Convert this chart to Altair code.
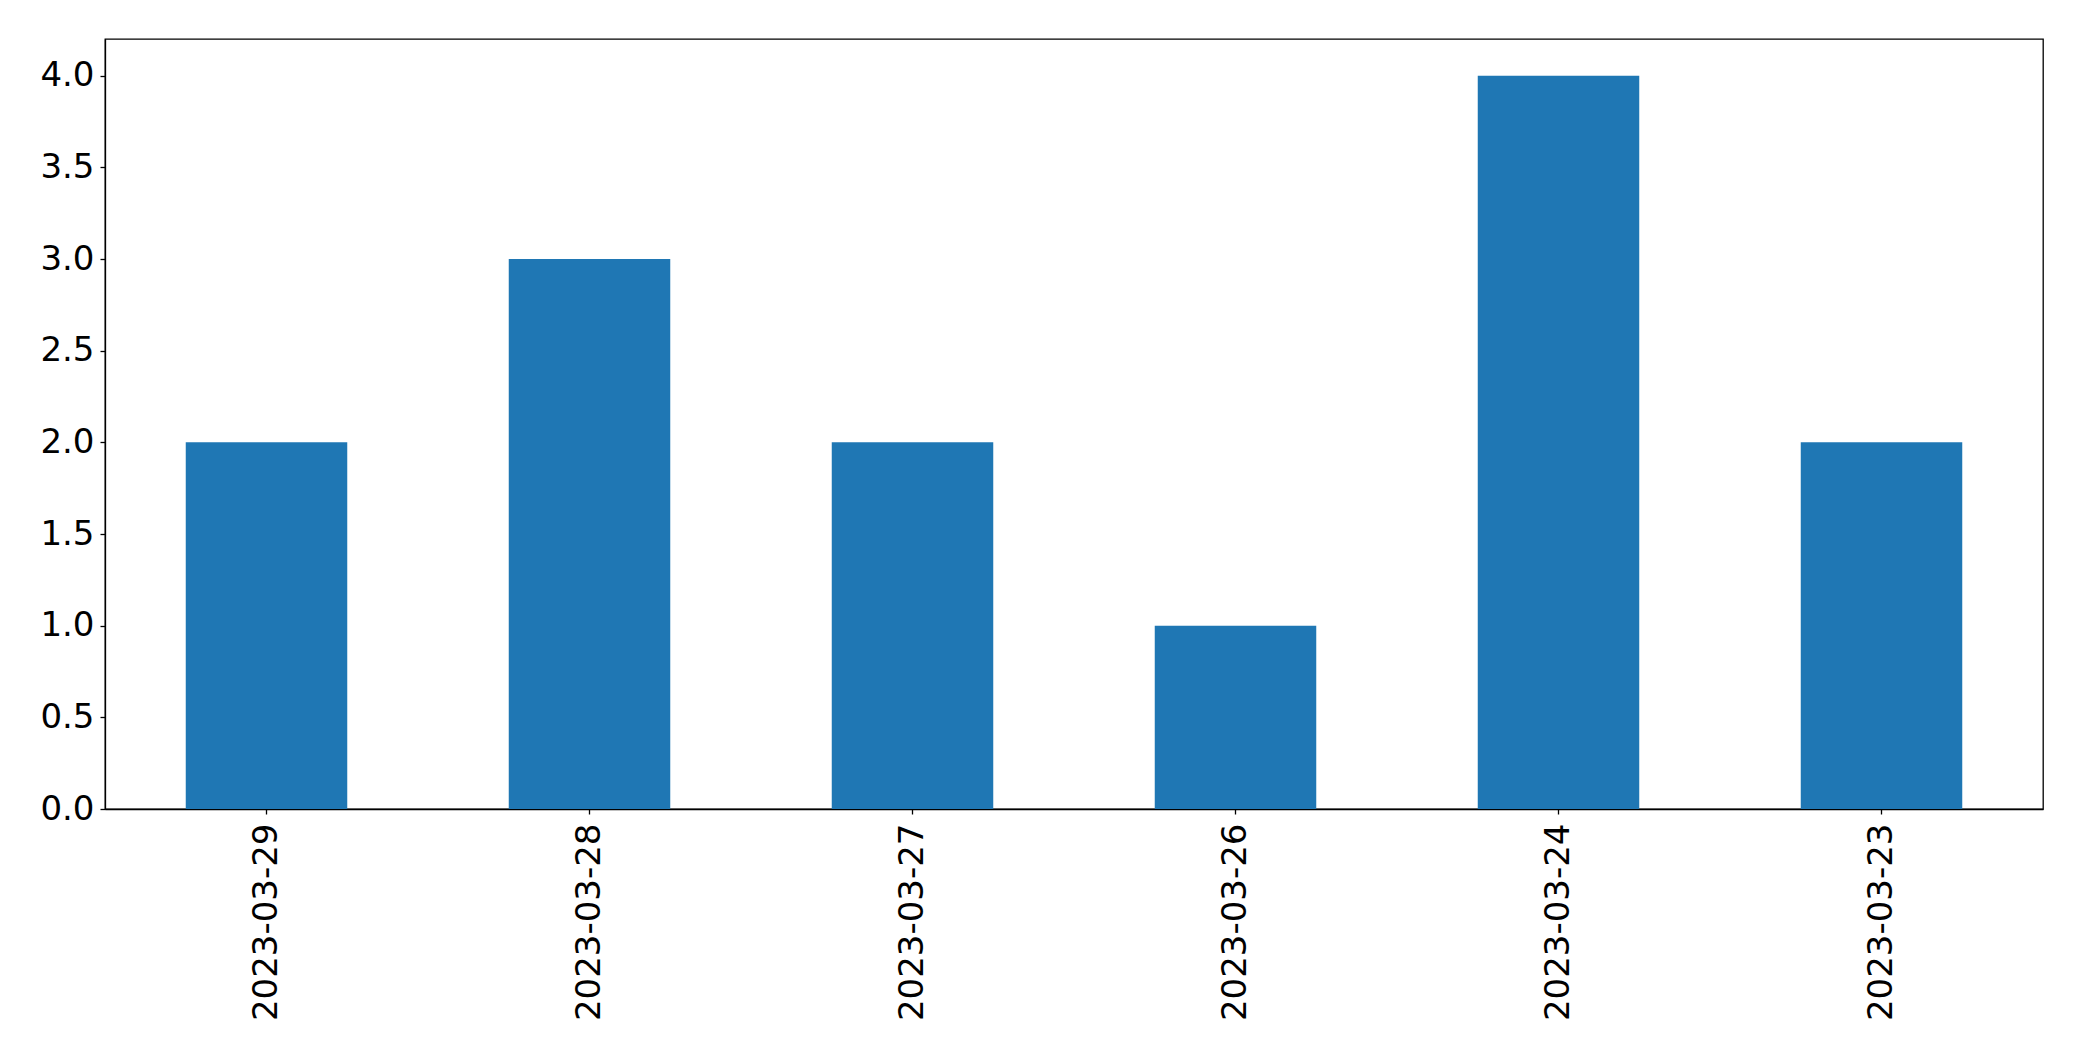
import altair as alt
import pandas as pd

dates = ["2023-03-29", "2023-03-28", "2023-03-27", "2023-03-26", "2023-03-24", "2023-03-23"]
counts = [2, 3, 2, 1, 4, 2]
y_ticks = [0, 0.5, 1.0, 1.5, 2.0, 2.5, 3.0, 3.5, 4.0]

df = pd.DataFrame({"date": dates, "count": counts})

chart = alt.Chart(df).mark_bar(color="#1f77b4").encode(
    x=alt.X("date:N", sort=dates, title=None,
            scale=alt.Scale(paddingInner=0.5, paddingOuter=0.25),
            axis=alt.Axis(labelAngle=270, labelAlign="right", labelBaseline="middle",
                          labelPadding=9, tickSize=5, labelFontSize=34, labelLimit=1000,
                          labelFont="DejaVu Sans", labelColor="black",
                          domainColor="black", tickColor="black")),
    y=alt.Y("count:Q", title=None,
            scale=alt.Scale(domain=[0, 4.2], nice=False, zero=True),
            axis=alt.Axis(values=y_ticks, format=".1f", grid=False, tickSize=5,
                          labelPadding=6, labelFontSize=34, labelFont="DejaVu Sans",
                          labelColor="black", domainColor="black", tickColor="black")),
).properties(
    width=1938, height=770,
    autosize=alt.AutoSizeParams(type="none"),
    padding={"left": 97, "top": 31, "right": 30, "bottom": 240},
).configure_view(stroke="black", strokeWidth=1.3).configure_axis(domainWidth=1.3, tickWidth=1.3)

chart.save("out.html", embed_options={"renderer": "svg", "actions": False})
